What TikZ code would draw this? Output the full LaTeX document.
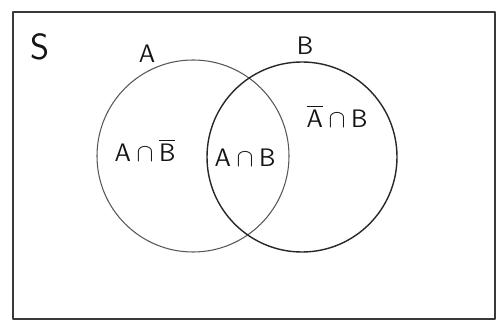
\documentclass[tikz,border=0pt]{standalone}
\usepackage{amsmath}
\usepackage{tikz}
\definecolor{framecol}{RGB}{ 58, 56, 58}
\definecolor{circAcol}{RGB}{ 90, 86, 88}
\definecolor{circBcol}{RGB}{ 40, 38, 40}
\definecolor{inkcol}  {RGB}{ 20, 20, 22}
\def\radA{96}
\def\radB{95}

\begin{document}
\begin{tikzpicture}[
  % pixel grid of the reference: 1px = 0.02cm, y pointing down
  x=0.02cm, y=-0.02cm,
  line cap=round,line join=round,
  setlabel/.style={font=\sffamily\Large,text=inkcol,inner sep=1pt},
  partlabel/.style={font=\sffamily\Large,text=inkcol,inner sep=1pt}
]
\useasboundingbox (0,0) rectangle (500,327);

% ---- sample space --------------------------------------------------------
\draw[framecol,thick] (13,12) rectangle (495,319);
\node[setlabel,font=\sffamily\huge] (S) at (40,47) {S};

% ---- the two sets --------------------------------------------------------
\coordinate (cA) at (193,156);
\coordinate (cB) at (302,157);
\draw[circAcol,semithick] (cA) circle[radius=\radA];
\draw[circBcol,thick] (cB) circle[radius=\radB];
\node[setlabel] (A) at (147,54) {A};
\node[setlabel] (B) at (305,46) {B};

% ---- regions -------------------------------------------------------------
\node[partlabel] (AnotB) at (145,150) {$\mathsf{A}\cap\overline{\mathsf{B}}$};
\node[partlabel] (AandB) at (245,158) {$\mathsf{A}\cap\mathsf{B}$};
\node[partlabel] (notAB) at (337,116) {$\overline{\mathsf{A}}\cap\mathsf{B}$};

\end{tikzpicture}
\end{document}
